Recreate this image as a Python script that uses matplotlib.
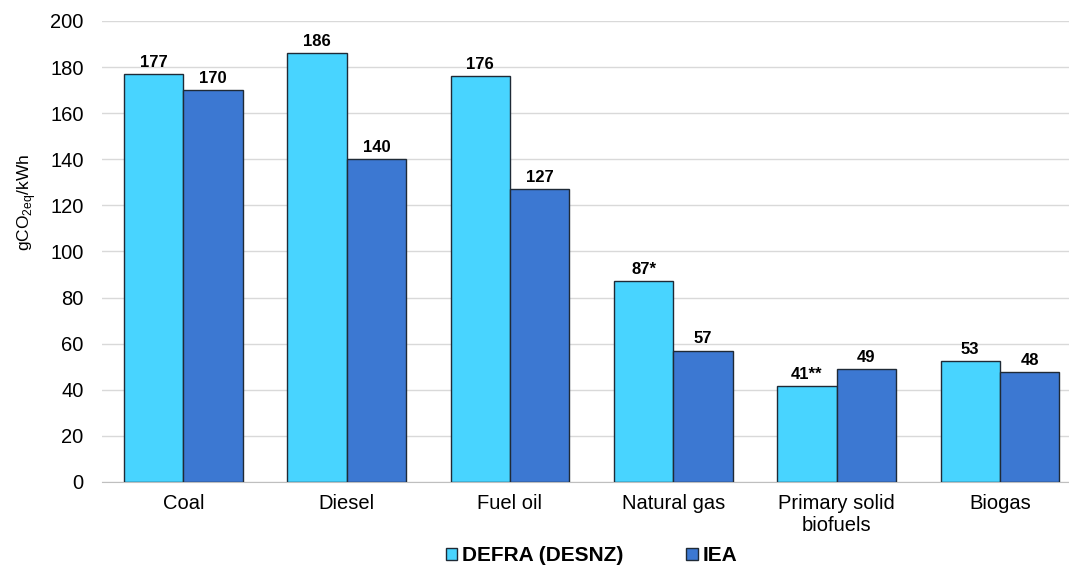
import numpy as np
import matplotlib.pyplot as plt

plt.rcParams['font.family'] = ['Liberation Sans', 'DejaVu Sans']

categories = ['Coal', 'Diesel', 'Fuel oil', 'Natural gas', 'Primary solid\nbiofuels', 'Biogas']
defra = [177, 186, 176, 87, 41.5, 52.5]
iea = [170, 140, 127, 57, 49, 47.5]
defra_labels = ['177', '186', '176', '87*', '41**', '53']
iea_labels = ['170', '140', '127', '57', '49', '48']

fig = plt.figure(figsize=(10.69, 5.65), dpi=100)
# axes run past the right edge of the figure, like the original
ax = fig.add_axes([0.0951, 0.147, 0.9167, 0.816])

x = np.arange(len(categories))
w = 0.364
b1 = ax.bar(x - w / 2, defra, w, color='#48D4FF', edgecolor='#1f2a36', linewidth=1.0,
            label='DEFRA (DESNZ)', zorder=3)
b2 = ax.bar(x + w / 2, iea, w, color='#3C78D2', edgecolor='#1f2a36', linewidth=1.0,
            label='IEA', zorder=3)
ax.bar_label(b1, labels=defra_labels, padding=3, fontsize=12, fontweight='bold')
ax.bar_label(b2, labels=iea_labels, padding=3, fontsize=12, fontweight='bold')

ax.set_xlim(-0.5, len(categories) - 0.5)
ax.set_ylim(0, 200)
ax.set_yticks(np.arange(0, 201, 20))
ax.yaxis.grid(True, color='#d9d9d9', linewidth=1, zorder=0)
ax.set_axisbelow(True)
for s in ['top', 'right', 'left']:
    ax.spines[s].set_visible(False)
ax.spines['bottom'].set_color('#bfbfbf')
ax.tick_params(axis='y', length=0, labelsize=14.5, pad=13)
ax.tick_params(axis='x', length=0, labelsize=14.5, pad=9)
ax.set_xticks(x)
ax.set_xticklabels(categories, linespacing=1.2)

fig.text(27 / 1069, 1 - 202 / 565, 'gCO$_\\mathregular{2eq}$/kWh', rotation=90,
         ha='center', va='center', fontsize=12.5)

ax.legend(loc='center', bbox_to_anchor=(0.5, -0.1605), ncol=2, frameon=False,
          prop={'weight': 'bold', 'size': 15}, handlelength=0.55, handleheight=0.55,
          handletextpad=0.25, columnspacing=3)

fig.savefig('out.png', dpi=100)
